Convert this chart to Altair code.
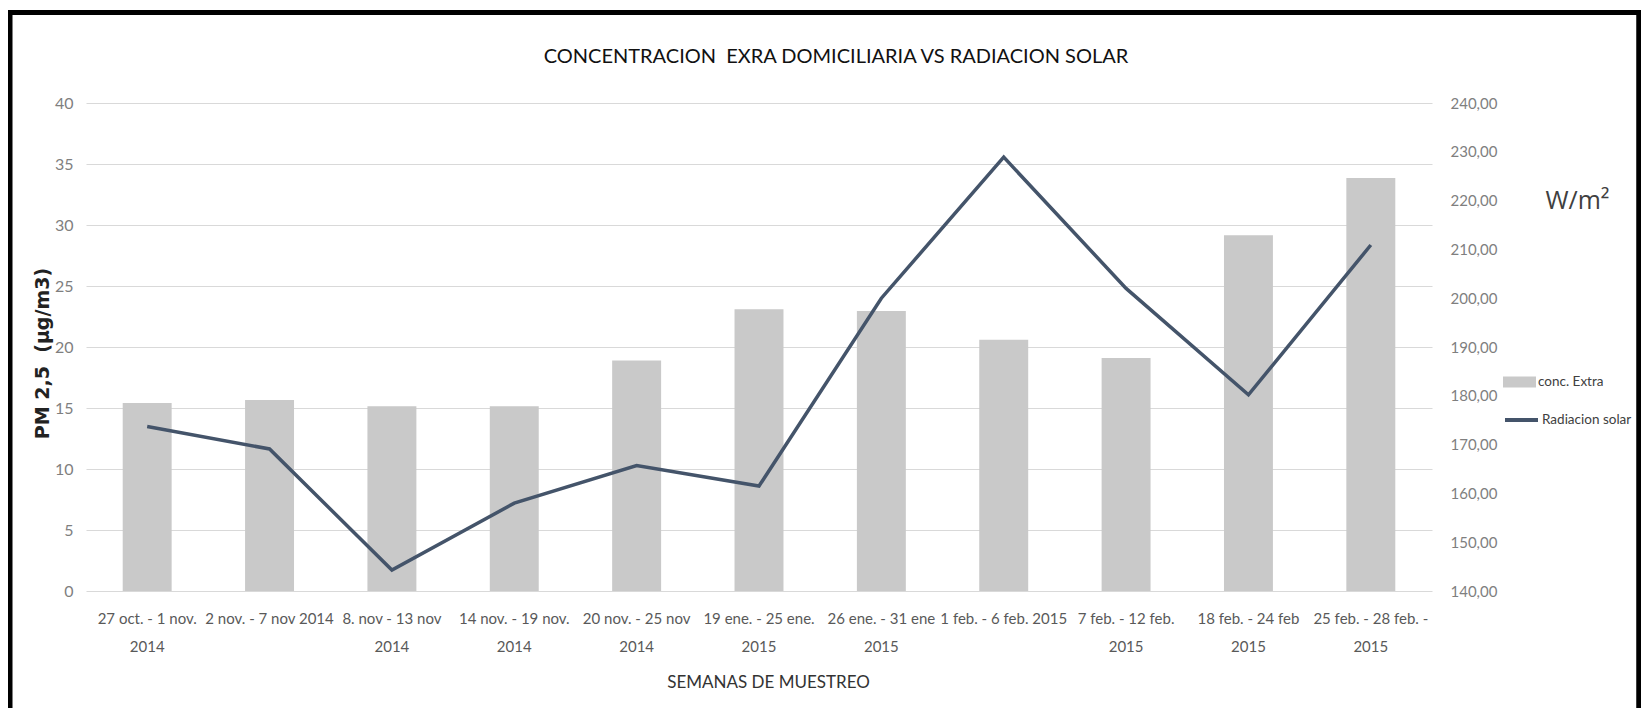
import altair as alt
import pandas as pd

# ---- data ----
categories = [
    "27 oct. - 1 nov.|2014",
    "2 nov. - 7 nov 2014",
    "8. nov - 13 nov|2014",
    "14 nov. - 19 nov.|2014",
    "20 nov. - 25 nov|2014",
    "19 ene. - 25 ene.|2015",
    "26 ene. - 31 ene|2015",
    "1 feb. - 6 feb. 2015",
    "7 feb. - 12 feb.|2015",
    "18 feb. - 24 feb|2015",
    "25 feb. - 28 feb. -|2015",
]
conc_extra = [15.4, 15.65, 15.15, 15.15, 18.9, 23.1, 22.95, 20.6, 19.1, 29.15, 33.85]
radiacion_solar = [173.7, 169.1, 144.3, 158.0, 165.7, 161.5, 200.0, 228.9, 202.0, 180.2, 210.9]

left_ticks = [0, 5, 10, 15, 20, 25, 30, 35, 40]
right_ticks = [140, 150, 160, 170, 180, 190, 200, 210, 220, 230, 240]

series_bar = "conc. Extra"
series_line = "Radiacion solar"

FONT = "Lato, Roboto, sans-serif"
BAR_COLOR = "#c9c9c9"
LINE_COLOR = "#44546a"

df = pd.DataFrame({"semana": categories, "conc": conc_extra, "rad": radiacion_solar})

x_bar = alt.X(
    "semana:N",
    sort=categories,
    scale=alt.Scale(paddingInner=0.6, paddingOuter=0.3),
    axis=alt.Axis(
        title="SEMANAS DE MUESTREO",
        labelAngle=0,
        labelExpr="split(datum.label, '|')",
        labelFont=FONT,
        labelFontSize=15,
        labelColor="#595959",
        labelLineHeight=28.5,
        labelPadding=20,
        labelBaseline="top",
        labelOverlap=False,
        domain=False,
        ticks=False,
        grid=False,
        titleFont=FONT,
        titleFontSize=17,
        titleFontWeight="normal",
        titleColor="#333333",
        titleX=682,
        titleY=96,
        titleAlign="center",
        titleBaseline="alphabetic",
    ),
)

bars = (
    alt.Chart(df)
    .transform_calculate(serie=f"'{series_bar}'")
    .mark_bar()
    .encode(
        x=x_bar,
        y=alt.Y(
            "conc:Q",
            scale=alt.Scale(domain=[0, 40], nice=False),
            axis=alt.Axis(
                title="PM 2,5\u00a0 (µg/m3)",
                values=left_ticks,
                domain=False,
                ticks=False,
                grid=True,
                gridColor="#d9d9d9",
                gridWidth=1,
                labelFont=FONT,
                labelFontSize=16,
                labelColor="#7f7f7f",
                labelPadding=13,
                titleFont="DejaVu Sans",
                titleFontWeight="bold",
                titleFontSize=19,
                titleColor="#222222",
                titleAngle=270,
                titleX=-43.5,
                titleY=250,
                titleAlign="center",
                titleBaseline="middle",
            ),
        ),
        fill=alt.Fill(
            "serie:N",
            scale=alt.Scale(domain=[series_bar], range=[BAR_COLOR]),
            legend=alt.Legend(
                title=None,
                orient="none",
                legendX=1417,
                legendY=262.5,
                symbolType="M-1,-0.3333H1V0.3333H-1Z",
                symbolSize=1089,
                symbolStrokeWidth=0,
                labelFont=FONT,
                labelFontSize=13.5,
                labelColor="#404040",
                labelOffset=2,
                padding=0,
            ),
        ),
    )
)

line = (
    alt.Chart(df)
    .transform_calculate(serie=f"'{series_line}'")
    .mark_line(strokeWidth=3.5)
    .encode(
        x=alt.X("semana:N", sort=categories),
        y=alt.Y(
            "rad:Q",
            scale=alt.Scale(domain=[140, 240], nice=False),
            axis=alt.Axis(
                orient="right",
                title="W/m²",
                values=right_ticks,
                labelExpr="replace(format(datum.value, '.2f'), '.', ',')",
                domain=False,
                ticks=False,
                grid=False,
                labelFont=FONT,
                labelFontSize=15,
                labelColor="#7f7f7f",
                labelPadding=18,
                titleFont="Open Sans",
                titleFontSize=25,
                titleFontWeight="normal",
                titleColor="#404040",
                titleAngle=0,
                titleX=145,
                titleY=105,
                titleAlign="center",
                titleBaseline="alphabetic",
            ),
        ),
        stroke=alt.Stroke(
            "serie:N",
            scale=alt.Scale(domain=[series_line], range=[LINE_COLOR]),
            legend=alt.Legend(
                title=None,
                orient="none",
                legendX=1417,
                legendY=298.5,
                symbolType="stroke",
                symbolSize=1089,
                symbolStrokeWidth=4,
                labelFont=FONT,
                labelFontSize=13.5,
                labelColor="#404040",
                labelOffset=2,
                padding=0,
            ),
        ),
    )
)

frame = (
    alt.Chart(alt.Data(values=[{"k": 1}]))
    .mark_rect(fillOpacity=0, stroke="#000000", strokeWidth=5)
    .encode(
        x=alt.value(-76),
        x2=alt.value(1552.75),
        y=alt.value(-90.5),
        y2=alt.value(800),
    )
)

chart = (
    alt.layer(bars, line, frame)
    .resolve_scale(y="independent")
    .properties(
        width=1346,
        height=488,
        autosize=alt.AutoSizeParams(type="none"),
        padding={"left": 78, "top": 95, "right": 209, "bottom": 117},
        background="white",
        title=alt.Title(
            text="CONCENTRACION\u00a0 EXRA DOMICILIARIA VS RADIACION SOLAR",
            font=FONT,
            fontSize=20,
            fontWeight="normal",
            color="#111111",
            anchor="middle",
            frame="group",
            dx=77,
            offset=0,
            dy=73.3,
            baseline="alphabetic",
        ),
    )
    .configure_view(strokeWidth=0)
)

chart.save("out.html", embed_options={"renderer": "svg", "actions": False})
